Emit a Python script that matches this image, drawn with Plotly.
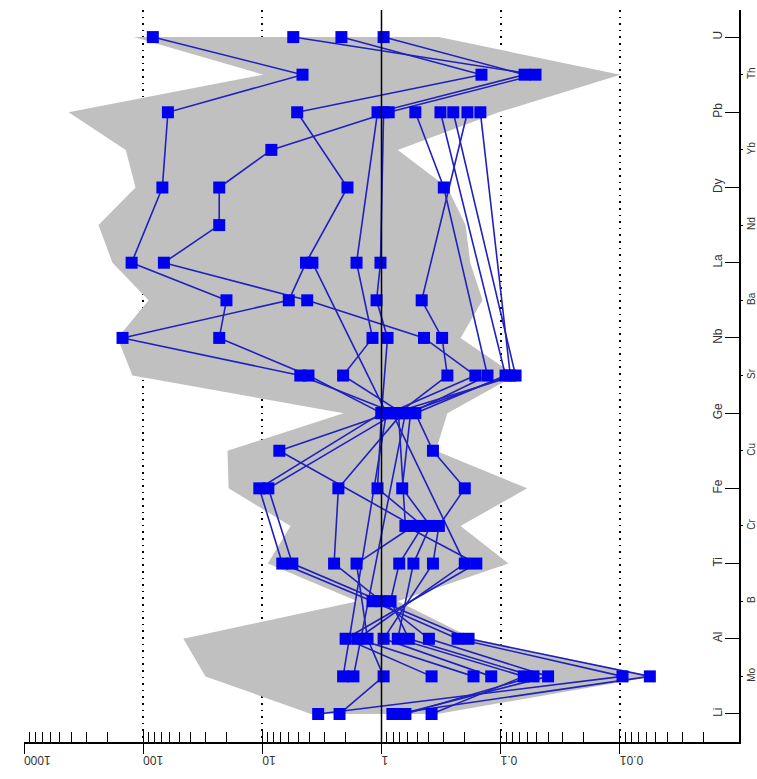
import plotly.graph_objects as go

# Element order along the vertical axis (bottom to top)
elements = ["Li", "Mo", "Al", "B", "Ti", "Cr", "Fe", "Cu", "Ge", "Sr",
            "Nb", "Ba", "La", "Nd", "Dy", "Yb", "Pb", "Th", "U"]

# Normalised concentrations per sample (None = not analysed)
#          Li     Mo      Al     B     Ti    Cr    Fe    Cu    Ge    Sr     Nb    Ba    La    Nd    Dy    Yb    Pb    Th     U
s1  = [3.4,  0.0095, 0.23,  1.19, 6.8,  None, 10.6, None, 1.0,  4.1,   23,   20,   125,  None, 69,   None, 62,   4.6,   83]
s2  = [2.25, 0.96,   1.31,  None, 1.62, 0.54, None, 7.2,  0.87, 0.163, 0.44, 4.2,  67,   23,   23,   8.4,  0.87, 0.051, 5.5]
s3  = [0.81, 0.0056, 0.186, 1.02, 5.6,  None, 8.9,  None, 0.76, 4.8,   149,  6.0,  4.3,  None, 1.93, None, 5.1,  0.145, 2.17]
s4  = [0.69, 0.040,  0.40,  None, 2.5,  None, 2.3,  None, 0.67, 2.1,   1.19, None, 1.62, None, None, None, 1.08, 0.063, 0.96]
s5  = [0.63, 0.053,  0.59,  0.84, 0.71, 0.45, 1.08, None, 1.0,  None,  0.89, 1.10, 1.02, None, None, None, 0.96, None,  None]
s6  = [0.38, 0.064,  0.73,  None, 0.54, 0.39, 0.67, None, 0.57, 0.129, None, None, None, None, 0.30, None, 0.52, None,  None]
s7  = [None, 0.12,   0.96,  None, 0.37, 0.33, 0.20, 0.37, 0.52, 0.091, None, None, None, None, None, None, 0.32, None,  None]
s8  = [None, 0.169,  1.59,  None, 0.20, None, None, None, 0.81, 0.075, None, None, None, None, None, None, 0.25, None,  None]
s9  = [None, 0.38,   2.0,   None, 0.16, 0.63, None, None, 0.72, 0.28,  0.31, 0.46, None, None, None, None, 0.19, None,  None]
s10 = [None, 1.72,   None,  None, None, None, None, None, 0.63, 0.083, None, None, None, None, None, None, 0.148, None, None]
s11 = [None, 2.1,    None,  None, None, None, None, None, 0.91, None,  None, None, 3.8,  None, None, None, None, None,  None]
samples = [s1, s2, s3, s4, s5, s6, s7, s8, s9, s10, s11]

# Reference field (upper and lower bounds per element)
field_max = [3.9, 30, 46, 1.59, 9.0, 5.8, 19.2, 19.6, 2.08, 123,
             164, 90, 181, 237, 116, 140, 423, 9.8, 120]
field_min = [0.34, 0.0053, 0.17, 0.73, 0.086, 0.217, 0.060, 0.35, 0.28, 0.075,
             0.217, 0.142, 0.18, 0.197, 0.28, 0.73, 0.104, 0.0099, 0.33]

decades = [1000, 100, 10, 1, 0.1, 0.01, 0.001]
decade_text = ["1000", "100", "10", "1", "0.1", "0.01", "0.001"]
grid_decades = [100, 10, 0.1, 0.01]
unity = 1
minor_vals = [m * d for d in [0.001, 0.01, 0.1, 1, 10, 100] for m in range(2, 10)]

pos = list(range(len(elements)))
line_blue = "#2020c0"
marker_blue = "#0000f0"

fig = go.Figure()

# grey reference field
fig.add_trace(go.Scatter(
    x=field_max + field_min[::-1],
    y=pos + pos[::-1],
    mode="lines", fill="toself", fillcolor="#c0c0c0",
    line=dict(width=0, color="#c0c0c0"),
    hoverinfo="skip", showlegend=False))

# sample profiles: lines first, markers on top
for s in samples:
    fig.add_trace(go.Scatter(
        x=s, y=pos, mode="lines", connectgaps=True,
        line=dict(color=line_blue, width=1.6),
        hoverinfo="skip", showlegend=False))
for s in samples:
    fig.add_trace(go.Scatter(
        x=s, y=pos, mode="markers",
        marker=dict(symbol="square", size=12, color=marker_blue,
                    line=dict(width=0)),
        showlegend=False))

# invisible helpers so the overlay axes are drawn
fig.add_trace(go.Scatter(x=[1], y=[9], xaxis="x2", yaxis="y", mode="markers",
                         marker=dict(opacity=0), hoverinfo="skip", showlegend=False))
fig.add_trace(go.Scatter(x=[1], y=[9], xaxis="x3", yaxis="y", mode="markers",
                         marker=dict(opacity=0), hoverinfo="skip", showlegend=False))
fig.add_trace(go.Scatter(x=[1], y=[9], xaxis="x", yaxis="y2", mode="markers",
                         marker=dict(opacity=0), hoverinfo="skip", showlegend=False))

xrange = [3, -3]
yrange = [-0.745, 18.72]
tick_font = dict(family="Liberation Sans, Arial, sans-serif", size=12, color="#333333")
outer_font = dict(family="Liberation Sans, Arial, sans-serif", size=10, color="#333333")

fig.update_layout(
    width=757, height=779,
    margin=dict(l=24, r=18, t=10, b=37, autoexpand=False),
    paper_bgcolor="white", plot_bgcolor="white",
    showlegend=False,
    xaxis=dict(
        type="log", range=xrange, automargin=False,
        tickmode="array", tickvals=decades, ticktext=decade_text,
        tickangle=180, tickfont=tick_font,
        ticks="outside", ticklen=10, tickwidth=1.3, tickcolor="black",
        showline=True, linecolor="black", linewidth=1.5,
        showgrid=False, zeroline=False,
        minor=dict(tickmode="array", tickvals=minor_vals, ticks="inside",
                   ticklen=10, tickwidth=1.2, tickcolor="black", showgrid=False),
    ),
    xaxis2=dict(
        type="log", range=xrange, overlaying="x", anchor="y", side="bottom",
        automargin=False,
        tickmode="array", tickvals=decades, showticklabels=False,
        ticks="inside", ticklen=12, tickwidth=1.3, tickcolor="black",
        showline=False, showgrid=False, zeroline=False,
    ),
    xaxis3=dict(
        type="log", range=xrange, overlaying="x", anchor="y", side="bottom",
        automargin=False,
        tickmode="array", tickvals=grid_decades, showticklabels=False,
        ticks="", showline=False, zeroline=False,
        showgrid=True, gridcolor="black", gridwidth=1.6, griddash="1.6px,5px",
    ),
    yaxis=dict(
        range=yrange, side="right", automargin=False,
        tickmode="array", tickvals=pos[0::2], ticktext=elements[0::2],
        ticks="inside", ticklen=14, tickwidth=1.3, tickcolor="black",
        ticklabelposition="inside", tickangle=-90, tickfont=tick_font,
        showline=True, linecolor="black", linewidth=1.5,
        showgrid=False, zeroline=False,
    ),
    yaxis2=dict(
        range=yrange, side="right", overlaying="y", anchor="x",
        automargin=False,
        tickmode="array", tickvals=pos[1::2], ticktext=elements[1::2],
        ticks="outside", ticklen=3, tickwidth=1.3, tickcolor="black",
        ticklabelstandoff=0,
        tickangle=-90, tickfont=outer_font,
        showline=False, showgrid=False, zeroline=False,
    ),
    shapes=[dict(type="line", xref="x", yref="paper", x0=unity, x1=unity,
                 y0=0, y1=1, line=dict(color="black", width=1.5), layer="above")],
)

fig.write_html("out.html")
